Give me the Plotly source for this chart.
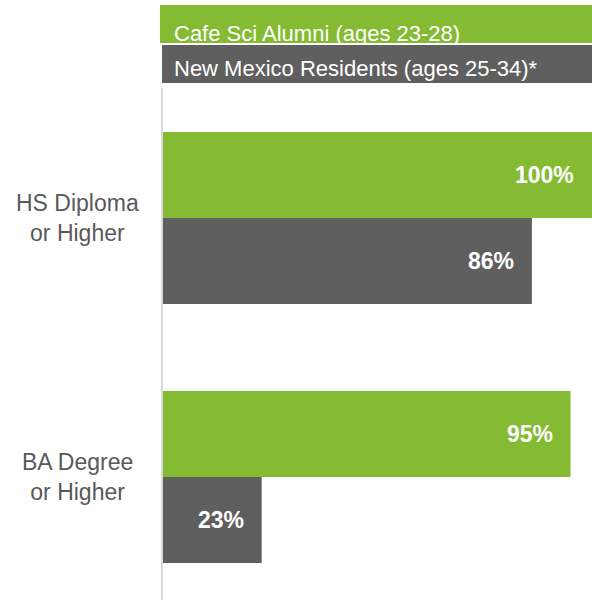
import plotly.graph_objects as go

categories = ["HS Diploma<br>or Higher", "BA Degree<br>or Higher"]
series_names = ["Cafe Sci Alumni (ages 23-28)", "New Mexico Residents (ages 25-34)*"]
cafe_values = [100, 95]
nm_values = [86, 23]
value_labels_cafe = ["100%", "95%"]
value_labels_nm = ["86%", "23%"]

GREEN = "#84BB33"
GRAY = "#5F5F5F"
FONT = "Liberation Sans, Arial, sans-serif"

W, H = 592, 602
ML, MR, MT, MB = 163, 0, 88, 2
PW, PH = W - ML - MR, H - MT - MB


def px_x(p):
    return (p - ML) / PW


def px_y(p):
    return 1 + (MT - p) / PH


fig = go.Figure()
fig.add_trace(go.Bar(y=categories, x=cafe_values, orientation="h", name=series_names[0],
                     marker=dict(color=GREEN, line=dict(width=0)), hoverinfo="x+y"))
fig.add_trace(go.Bar(y=categories, x=nm_values, orientation="h", name=series_names[1],
                     marker=dict(color=GRAY, line=dict(width=0)), hoverinfo="x+y"))

annotations = []
for cat, v, t in zip(categories, cafe_values, value_labels_cafe):
    annotations.append(dict(x=v, y=cat, xref="x", yref="y", text="<b>%s</b>" % t, showarrow=False,
                            xanchor="right", yanchor="middle", xshift=-16, yshift=43,
                            font=dict(family=FONT, size=23, color="white")))
for cat, v, t in zip(categories, nm_values, value_labels_nm):
    annotations.append(dict(x=v, y=cat, xref="x", yref="y", text="<b>%s</b>" % t, showarrow=False,
                            xanchor="right", yanchor="middle", xshift=-16, yshift=-43,
                            font=dict(family=FONT, size=23, color="white")))
for cat in categories:
    annotations.append(dict(x=px_x(77), y=cat, xref="paper", yref="y", text=cat, showarrow=False,
                            xanchor="center", yanchor="middle", align="center",
                            font=dict(family=FONT, size=23, color="#595959")))

# legend boxes
shapes = [
    dict(type="rect", xref="paper", yref="paper", x0=px_x(160), x1=1, y0=px_y(43), y1=px_y(5),
         fillcolor=GREEN, line=dict(width=0), layer="below"),
    dict(type="rect", xref="paper", yref="paper", x0=px_x(162), x1=1, y0=px_y(83), y1=px_y(45),
         fillcolor=GRAY, line=dict(width=0), layer="below"),
]
for name, top, bottom in [(series_names[0], 20, 43), (series_names[1], 55, 83)]:
    annotations.append(dict(x=px_x(173), y=px_y(top), xref="paper", yref="paper",
                            text=name + "<br> ", showarrow=False, xanchor="left", yanchor="top",
                            align="left", valign="top", height=bottom - top, width=410, borderpad=0,
                            font=dict(family=FONT, size=22, color="white")))

fig.update_layout(
    width=W, height=H,
    margin=dict(l=ML, r=MR, t=MT, b=MB, pad=0),
    barmode="group", bargap=0.336, bargroupgap=0,
    plot_bgcolor="white", paper_bgcolor="white",
    showlegend=False,
    xaxis=dict(range=[0, 100], showgrid=False, zeroline=False, showticklabels=False, showline=False),
    yaxis=dict(type="category", categoryorder="array", categoryarray=categories,
               range=[1.475, -0.502], showgrid=False, zeroline=False, showticklabels=False,
               showline=True, linecolor="#D9D9D9", linewidth=2, ticks=""),
    annotations=annotations, shapes=shapes,
)

fig.write_html("out.html", config={"displayModeBar": False},
               post_script="document.body.style.margin='0';document.body.style.overflow='hidden';")
